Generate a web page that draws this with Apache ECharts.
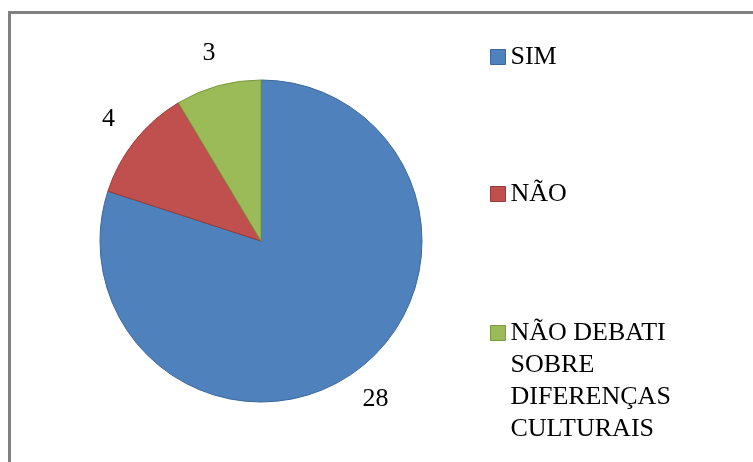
<!DOCTYPE html>
<html>
<head>
<meta charset="utf-8">
<script src="https://cdn.jsdelivr.net/npm/echarts@6/dist/echarts.min.js"></script>
<style>
  html, body { margin: 0; padding: 0; background: #fff; }
  #chart { width: 753px; height: 462px; }
</style>
</head>
<body>
<div id="chart"></div>
<script>
// Responses and their counts
const categories = ['SIM', 'NÃO', 'NÃO DEBATI SOBRE DIFERENÇAS CULTURAIS'];
const values = [28, 4, 3];
// Legend text; the long entry keeps blank lines above so its first line sits beside the swatch
const legendLabels = ['SIM', 'NÃO', '\n\n\nNÃO DEBATI\nSOBRE\nDIFERENÇAS\nCULTURAIS'];

const fills = ['#4F81BD', '#C0504D', '#9BBB59'];
const edges = ['#3B679B', '#9A3A38', '#7A9A3E'];
const serif = "'Liberation Serif', 'Times New Roman', serif";

const chart = echarts.init(document.getElementById('chart'), null, { renderer: 'canvas' });

const pieData = categories.map((name, i) => ({
  name,
  value: values[i],
  itemStyle: { color: fills[i], borderColor: edges[i], borderWidth: 1 }
}));

// Transparent ring whose inner labels sit just outside the pie
const labelRing = categories.map((name, i) => ({
  name,
  value: values[i],
  itemStyle: { color: 'transparent' }
}));

const legendTops = [41, 178, 221];
const legends = categories.map((name, i) => ({
  orient: 'vertical',
  left: 490,
  top: legendTops[i],
  padding: 0,
  itemWidth: 15,
  itemHeight: 15,
  itemGap: 0,
  icon: 'rect',
  selectedMode: false,
  data: [{ name, itemStyle: { color: fills[i], borderColor: edges[i], borderWidth: 1 } }],
  formatter: () => legendLabels[i],
  textStyle: {
    fontFamily: serif,
    fontSize: 26,
    lineHeight: 32,
    color: '#000'
  }
}));

chart.setOption({
  animation: false,
  backgroundColor: '#ffffff',
  graphic: [{
    type: 'rect',
    shape: { x: 9.5, y: 12.5, width: 900, height: 600 },
    style: { fill: 'none', stroke: '#808080', lineWidth: 3 },
    silent: true
  }],
  legend: legends,
  series: [
    {
      type: 'pie',
      center: [261, 241],
      radius: 161,
      startAngle: 90,
      clockwise: true,
      data: pieData,
      label: { show: false },
      labelLine: { show: false },
      emphasis: { disabled: true }
    },
    {
      type: 'pie',
      center: [261, 241],
      radius: [178, 206],
      startAngle: 90,
      clockwise: true,
      silent: true,
      data: labelRing,
      label: {
        show: true,
        position: 'inside',
        formatter: '{c}',
        fontFamily: serif,
        fontSize: 26,
        color: '#000'
      },
      labelLine: { show: false },
      emphasis: { disabled: true }
    }
  ]
});
</script>
</body>
</html>
